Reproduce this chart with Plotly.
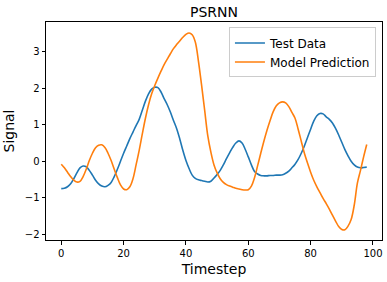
import plotly.graph_objects as go

timestep = list(range(99))

test_data = [
    -0.75, -0.74, -0.70, -0.62, -0.48, -0.32, -0.18, -0.13, -0.15, -0.25,
    -0.38, -0.52, -0.62, -0.68, -0.70, -0.66, -0.58, -0.42, -0.22, 0.00,
    0.22, 0.42, 0.62, 0.80, 0.98, 1.15, 1.40, 1.65, 1.85, 1.98,
    2.03, 2.02, 1.90, 1.72, 1.55, 1.35, 1.12, 0.90, 0.62, 0.30,
    0.02, -0.20, -0.38, -0.47, -0.51, -0.53, -0.55, -0.57, -0.55, -0.46,
    -0.36, -0.25, -0.10, 0.07, 0.23, 0.38, 0.50, 0.56, 0.50, 0.33,
    0.12, -0.10, -0.28, -0.35, -0.39, -0.40, -0.40, -0.39, -0.39, -0.38,
    -0.38, -0.37, -0.33, -0.27, -0.18, -0.08, 0.05, 0.22, 0.42, 0.65,
    0.88, 1.10, 1.25, 1.31, 1.30, 1.22, 1.15, 1.05, 0.90, 0.72,
    0.52, 0.32, 0.15, 0.00, -0.10, -0.16, -0.18, -0.17, -0.16,
]

model_prediction = [
    -0.08, -0.18, -0.30, -0.42, -0.52, -0.57, -0.55, -0.42, -0.22, 0.02,
    0.22, 0.37, 0.44, 0.45, 0.38, 0.22, 0.02, -0.22, -0.45, -0.65,
    -0.76, -0.78, -0.70, -0.48, -0.10, 0.30, 0.75, 1.18, 1.55, 1.85,
    2.08, 2.28, 2.47, 2.65, 2.80, 2.95, 3.09, 3.20, 3.30, 3.40,
    3.48, 3.52, 3.47, 3.27, 2.75, 2.10, 1.40, 0.70, 0.25, -0.10,
    -0.32, -0.48, -0.58, -0.64, -0.68, -0.71, -0.74, -0.76, -0.78, -0.79,
    -0.78, -0.68, -0.45, -0.12, 0.22, 0.55, 0.85, 1.12, 1.36, 1.52,
    1.60, 1.63, 1.60, 1.50, 1.34, 1.18, 0.88, 0.55, 0.22, -0.05,
    -0.30, -0.52, -0.70, -0.86, -1.02, -1.16, -1.31, -1.48, -1.64, -1.79,
    -1.87, -1.88, -1.78, -1.60, -1.20, -0.60, -0.25, 0.12, 0.46,
]

font = "DejaVu Sans, Liberation Sans, sans-serif"

fig = go.Figure()
fig.add_trace(go.Scatter(x=timestep, y=test_data, mode="lines", name="Test Data",
                         line=dict(color="#1f77b4", width=1.6, shape="spline")))
fig.add_trace(go.Scatter(x=timestep, y=model_prediction, mode="lines", name="Model Prediction",
                         line=dict(color="#ff7f0e", width=1.6, shape="spline")))

axis_common = dict(showline=True, linecolor="black", linewidth=1, mirror=True,
                   ticks="outside", ticklen=3.5, tickwidth=0.8, tickcolor="black",
                   showgrid=False, zeroline=False,
                   tickfont=dict(family=font, size=10, color="black"))

fig.update_layout(
    width=387, height=282,
    margin=dict(l=46, r=5, t=22, b=42),
    paper_bgcolor="white", plot_bgcolor="white",
    font=dict(family=font, color="black"),
    title=dict(text="PSRNN", x=0.5, xanchor="center", xref="paper",
               y=1 - 12/282, yanchor="middle", yref="container",
               font=dict(family=font, size=14, color="black")),
    xaxis=dict(range=[-4.9, 102.9], tickvals=[0, 20, 40, 60, 80, 100],
               title=dict(text="Timestep", font=dict(family=font, size=14), standoff=6),
               **axis_common),
    yaxis=dict(range=[-2.16, 3.82], tickvals=[-2, -1, 0, 1, 2, 3],
               title=dict(text="Signal", font=dict(family=font, size=14), standoff=6),
               **axis_common),
    legend=dict(x=0.982, y=0.975, xanchor="right", yanchor="top",
                bgcolor="rgba(255,255,255,0.8)", bordercolor="#cccccc", borderwidth=1,
                font=dict(family=font, size=12, color="black"),
                itemwidth=30, tracegroupgap=0),
    showlegend=True,
)

fig.write_html("out.html",
               config={"displayModeBar": False},
               post_script="document.body.style.margin='0';document.body.style.overflow='hidden';")
